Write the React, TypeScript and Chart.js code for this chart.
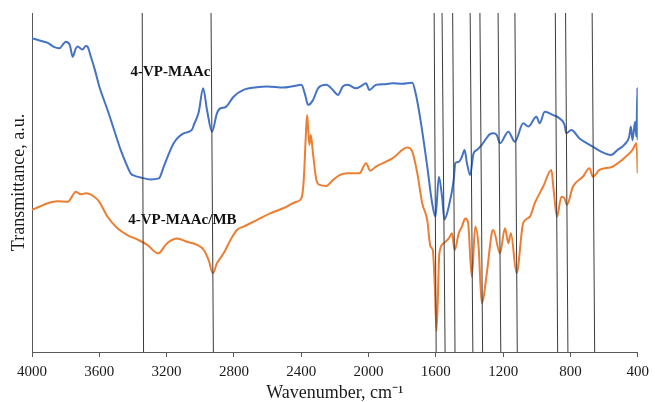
import React, { useEffect, useRef } from "react";
import { Chart, registerables } from "chart.js";

Chart.register(...registerables);

// Wavenumber axis ticks (cm-1)
const xTicks = [4000, 3600, 3200, 2800, 2400, 2000, 1600, 1200, 800, 400];

// 4-VP-MAAc (blue)
const blueWavenumbers = [4000, 3950, 3906, 3870, 3837, 3815, 3799, 3775, 3758, 3740, 3729, 3700, 3680, 3670, 3650, 3625, 3600, 3551, 3512, 3473, 3440, 3414, 3385, 3355, 3296, 3246, 3217, 3158, 3099, 3050, 3038, 3009, 2983, 2960, 2930, 2901, 2880, 2851, 2802, 2743, 2664, 2600, 2507, 2450, 2399, 2379, 2359, 2330, 2300, 2251, 2212, 2182, 2153, 2123, 2074, 2040, 2015, 1995, 1956, 1900, 1858, 1800, 1740, 1720, 1691, 1651, 1622, 1602, 1582, 1563, 1549, 1523, 1494, 1484, 1464, 1445, 1429, 1415, 1396, 1376, 1356, 1327, 1278, 1258, 1238, 1219, 1169, 1130, 1081, 1051, 1002, 983, 953, 903, 864, 835, 825, 795, 746, 667, 618, 559, 520, 481, 451, 441, 431, 416, 408, 402, 400];
const blueValues = [92.6, 91.8, 91.2, 90.0, 89.6, 90.8, 91.5, 90.5, 87.1, 89.5, 90.1, 89.2, 90.3, 90.1, 87.1, 83.0, 78.3, 71.4, 65.5, 59.6, 55.5, 52.7, 51.9, 51.5, 50.9, 51.2, 54.7, 61.6, 64.5, 65.5, 67.0, 70.8, 77.8, 71.4, 65.0, 70.4, 71.9, 72.2, 75.3, 77.3, 78.1, 78.3, 78.0, 78.4, 78.8, 76.3, 72.9, 74.3, 77.8, 78.8, 77.3, 75.8, 78.3, 78.8, 77.8, 78.6, 79.3, 77.3, 78.8, 79.0, 79.3, 79.1, 79.4, 76.3, 68.4, 54.7, 43.9, 39.9, 51.7, 45.8, 39.1, 42.9, 50.7, 55.7, 56.1, 57.6, 59.6, 55.7, 52.2, 58.6, 59.6, 61.1, 64.3, 64.5, 64.0, 61.6, 65.0, 62.0, 67.5, 66.5, 69.4, 67.5, 70.9, 69.9, 68.9, 67.0, 64.5, 65.5, 63.0, 60.6, 59.1, 58.1, 59.6, 61.1, 63.5, 66.5, 62.5, 67.9, 63.5, 77.8, 62.5];

// 4-VP-MAAc/MB (orange)
const orangeWavenumbers = [4000, 3950, 3906, 3850, 3788, 3739, 3710, 3680, 3630, 3600, 3551, 3492, 3433, 3374, 3315, 3250, 3197, 3138, 3079, 3019, 2979, 2950, 2925, 2901, 2861, 2821, 2782, 2743, 2664, 2585, 2507, 2428, 2399, 2385, 2373, 2365, 2357, 2351, 2343, 2330, 2310, 2290, 2251, 2212, 2172, 2123, 2054, 2015, 1990, 1956, 1858, 1769, 1740, 1710, 1681, 1651, 1632, 1618, 1606, 1596, 1579, 1553, 1523, 1504, 1488, 1464, 1445, 1425, 1409, 1386, 1366, 1346, 1327, 1297, 1268, 1258, 1219, 1189, 1169, 1154, 1120, 1081, 1041, 1012, 962, 913, 900, 880, 854, 835, 821, 785, 726, 687, 667, 628, 549, 471, 431, 408, 400];
const orangeValues = [41.9, 43.0, 43.9, 44.5, 44.3, 47.3, 46.5, 46.8, 45.8, 44.3, 39.9, 36.5, 34.5, 33.2, 31.6, 29.1, 32.1, 33.5, 32.5, 31.6, 30.1, 27.1, 23.2, 26.2, 29.1, 33.0, 36.0, 37.0, 38.9, 40.9, 42.4, 44.3, 45.3, 50.7, 63.5, 69.9, 64.5, 61.1, 64.0, 58.6, 50.7, 49.3, 49.0, 50.7, 52.2, 52.7, 52.7, 55.7, 53.5, 54.7, 57.1, 60.3, 59.1, 52.7, 43.9, 38.9, 31.1, 30.1, 19.3, 6.2, 29.1, 32.1, 33.5, 35.0, 30.1, 35.0, 37.0, 39.4, 38.4, 22.2, 37.0, 31.1, 14.4, 23.2, 35.0, 36.0, 29.1, 36.5, 32.1, 35.0, 23.2, 38.0, 39.9, 43.9, 48.8, 53.7, 47.8, 39.9, 45.8, 45.3, 43.4, 48.8, 51.7, 54.2, 51.7, 53.7, 54.7, 57.6, 59.6, 61.6, 52.7];

// Band marker lines (wavenumber at top / bottom of the plot)
const markerTop = [3345, 2936, 1610, 1563, 1500, 1396, 1338, 1230, 1130, 890, 829, 671];
const markerBottom = [3337, 2922, 1598, 1545, 1486, 1380, 1322, 1214, 1116, 876, 815, 656];

// Series labels
const labelTexts = ["4-VP-MAAc", "4-VP-MAAc/MB"];
const labelWavenumbers = [3177, 3106];
const labelValues = [82.7, 38.9];

const Y_MIN = 0;
const Y_MAX = 100;

export default function App() {
  const canvasRef = useRef<HTMLCanvasElement | null>(null);

  useEffect(() => {
    const canvas = canvasRef.current;
    if (!canvas) return;

    const markerSets = markerTop.map((t, i) => ({
      label: "marker" + i,
      data: [
        { x: markerBottom[i], y: Y_MIN },
        { x: t, y: Y_MAX },
      ],
      borderColor: "#3a3a3a",
      borderWidth: 1,
      pointRadius: 0,
      order: 0,
    }));

    const labelPlugin = {
      id: "seriesLabels",
      beforeDatasetsDraw(chart: any) {
        const { ctx, scales } = chart;
        ctx.save();
        ctx.font = "bold 15px 'Liberation Serif', 'Times New Roman', serif";
        ctx.fillStyle = "#111";
        ctx.textAlign = "center";
        ctx.textBaseline = "middle";
        labelTexts.forEach((t, i) => {
          ctx.fillText(
            t,
            scales.x.getPixelForValue(labelWavenumbers[i]),
            scales.y.getPixelForValue(labelValues[i])
          );
        });
        ctx.restore();
      },
    };

    const chart = new Chart(canvas, {
      type: "line",
      data: {
        datasets: [
          ...markerSets,
          {
            label: "4-VP-MAAc",
            data: blueWavenumbers.map((w, i) => ({ x: w, y: blueValues[i] })),
            borderColor: "#4472C4",
            borderWidth: 2,
            pointRadius: 0,
            cubicInterpolationMode: "monotone",
            order: 1,
          },
          {
            label: "4-VP-MAAc/MB",
            data: orangeWavenumbers.map((w, i) => ({ x: w, y: orangeValues[i] })),
            borderColor: "#ED7D31",
            borderWidth: 2,
            pointRadius: 0,
            cubicInterpolationMode: "monotone",
            order: 2,
          },
        ] as any,
      },
      options: {
        animation: false,
        responsive: false,
        maintainAspectRatio: false,
        layout: { padding: { top: 13, right: 13, left: 0, bottom: 0 } },
        plugins: {
          legend: { display: false },
          tooltip: { enabled: false },
        },
        scales: {
          x: {
            type: "linear",
            reverse: true,
            min: 400,
            max: 4000,
            afterBuildTicks: (scale: any) => {
              scale.ticks = xTicks.map((v) => ({ value: v }));
            },
            afterFit: (scale: any) => {
              scale.height = 50;
            },
            ticks: {
              color: "#1a1a1a",
              font: { family: "'Liberation Serif', serif", size: 15 },
              padding: 6,
              maxRotation: 0,
              autoSkip: false,
              callback: (v: any) => String(v),
            },
            grid: {
              display: true,
              drawOnChartArea: false,
              drawTicks: true,
              tickLength: 5,
              color: "#595959",
            },
            border: { display: true, color: "#595959", width: 1 },
            title: {
              display: true,
              text: "Wavenumber, cm\u207B\u00B9",
              color: "#1a1a1a",
              font: { family: "'Liberation Serif', serif", size: 18, lineHeight: 1 },
              padding: { top: 0, bottom: 0 },
            },
          },
          y: {
            type: "linear",
            min: Y_MIN,
            max: Y_MAX,
            afterFit: (scale: any) => {
              scale.width = 32;
            },
            ticks: { display: false },
            grid: { display: false },
            border: { display: true, color: "#595959", width: 1 },
            title: {
              display: true,
              text: "Transmittance, a.u.",
              color: "#1a1a1a",
              font: { family: "'Liberation Serif', serif", size: 18, lineHeight: 1 },
              padding: { top: 10, bottom: 0 },
            },
          },
        },
      },
      plugins: [labelPlugin],
    } as any);

    return () => chart.destroy();
  }, []);

  return (
    <div style={{ position: "absolute", left: 0, top: 0, width: 655, height: 402, background: "#fff" }}>
      <canvas ref={canvasRef} width={655} height={402} style={{ display: "block" }} />
    </div>
  );
}
